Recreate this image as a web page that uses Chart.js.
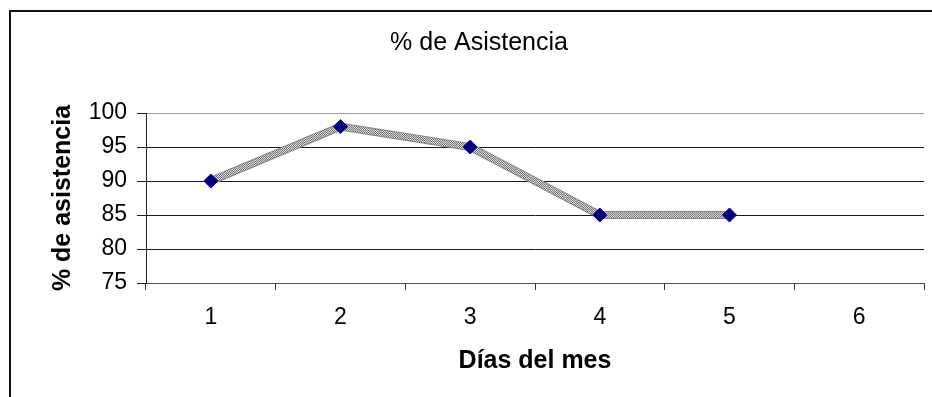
<!DOCTYPE html>
<html>
<head>
<meta charset="utf-8">
<script src="https://cdn.jsdelivr.net/npm/chart.js@4/dist/chart.umd.min.js"></script>
<style>
  html, body { margin: 0; padding: 0; background: #fff; }
  #wrap { position: relative; width: 932px; height: 397px; overflow: hidden; }
  #frame { position: absolute; left: 9px; top: 10px; right: -4px; bottom: -4px;
           border-left: 2px solid #111; border-top: 2px solid #111; pointer-events: none; }
  canvas { position: absolute; left: 0; top: 0; }
</style>
</head>
<body>
<div id="wrap">
  <canvas id="chart" width="932" height="397"></canvas>
  <div id="frame"></div>
</div>
<script>
// Attendance per day of the month
const dias = ['1', '2', '3', '4', '5', '6'];
const asistencia = [90, 98, 95, 85, 85, null];
const yTicks = [75, 80, 85, 90, 95, 100];

const FONT = "'Liberation Sans', Arial, sans-serif";

// Gray checkered stroke for the series line
function checkerPattern() {
  const c = document.createElement('canvas');
  c.width = 2; c.height = 2;
  const g = c.getContext('2d');
  g.fillStyle = '#d6d6d6'; g.fillRect(0, 0, 2, 2);
  g.fillStyle = '#7a7a7a'; g.fillRect(0, 0, 1, 1); g.fillRect(1, 1, 1, 1);
  return g.createPattern(c, 'repeat');
}

// Darker outline drawn under the patterned line, through the dataset's own points
const lineOutline = {
  id: 'lineOutline',
  beforeDatasetDraw(chart, args) {
    const pts = args.meta.data.filter((p, i) => asistencia[i] !== null);
    if (pts.length < 2) return;
    const ctx = chart.ctx;
    ctx.save();
    ctx.beginPath();
    pts.forEach((p, i) => i ? ctx.lineTo(p.x, p.y) : ctx.moveTo(p.x, p.y));
    ctx.lineWidth = 8;
    ctx.strokeStyle = '#858585';
    ctx.lineJoin = 'miter';
    ctx.stroke();
    ctx.restore();
  }
};

new Chart(document.getElementById('chart'), {
  type: 'line',
  data: {
    labels: dias,
    datasets: [{
      data: asistencia,
      borderColor: checkerPattern(),
      borderWidth: 6,
      tension: 0,
      spanGaps: false,
      pointStyle: 'rectRot',
      pointRadius: 7,
      pointBackgroundColor: '#000080',
      pointBorderColor: '#000080',
      pointBorderWidth: 1
    }]
  },
  options: {
    responsive: false,
    animation: false,
    devicePixelRatio: 1,
    layout: { padding: { left: 32, right: 6, top: 0, bottom: 0 } },
    plugins: {
      legend: { display: false },
      tooltip: { enabled: false },
      title: {
        display: true,
        text: '% de Asistencia',
        color: '#000',
        font: { family: FONT, size: 25, weight: 'normal', lineHeight: 1.2 },
        padding: { top: 28, bottom: 55 }
      }
    },
    scales: {
      x: {
        type: 'category',
        offset: true,
        afterFit(s) { s.height = 114; },
        grid: {
          offset: true,
          drawOnChartArea: false,
          drawTicks: true,
          tickLength: 7,
          tickColor: '#333',
          lineWidth: 1
        },
        border: { display: true, color: '#555', width: 1 },
        ticks: {
          color: '#000',
          padding: 14,
          font: { family: FONT, size: 23 }
        },
        title: {
          display: true,
          text: 'Días del mes',
          color: '#000',
          font: { family: FONT, size: 25, weight: 'bold', lineHeight: 1.2 },
          padding: { top: 0, bottom: 21 }
        }
      },
      y: {
        min: 75,
        max: 100,
        afterFit(s) { s.width = 114; },
        afterBuildTicks(s) { s.ticks = yTicks.map(v => ({ value: v })); },
        grid: {
          color: ctx => (ctx.tick && ctx.tick.value === 100) ? '#9a9a9a' : '#1a1a1a',
          tickColor: '#222',
          tickLength: 9,
          lineWidth: 1
        },
        border: { display: true, color: '#222', width: 1 },
        ticks: {
          color: '#000',
          padding: 10,
          font: { family: FONT, size: 23 }
        },
        title: {
          display: true,
          text: '% de asistencia',
          color: '#000',
          font: { family: FONT, size: 25, weight: 'bold', lineHeight: 1.2 },
          padding: { top: 16, bottom: 0 }
        }
      }
    }
  },
  plugins: [lineOutline]
});
</script>
</body>
</html>
